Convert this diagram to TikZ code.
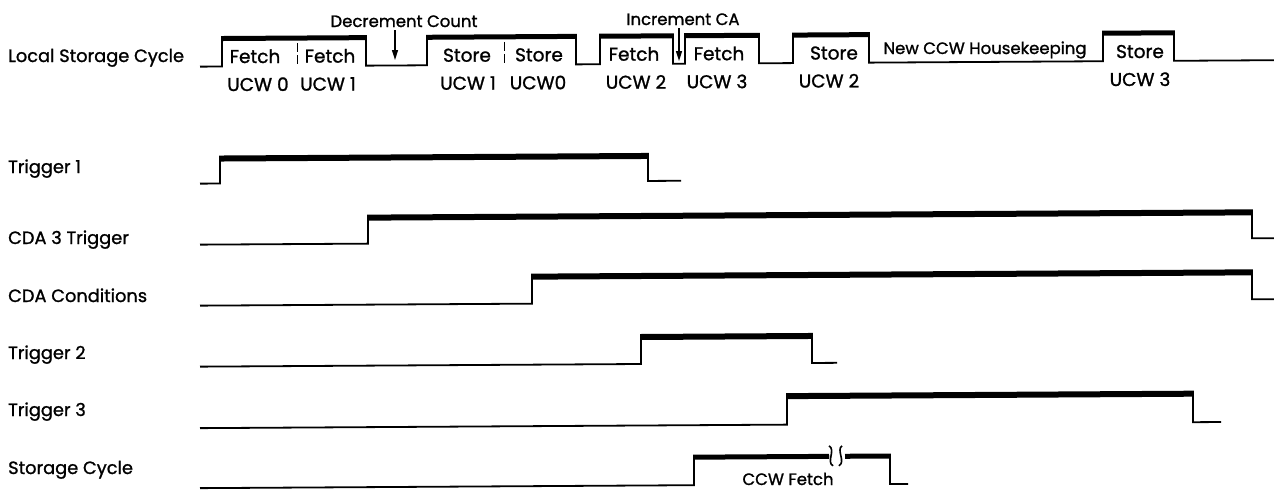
\documentclass[tikz,border=0pt]{standalone}
\usepackage{fontspec}
\setmainfont{Poppins}[UprightFeatures={FakeBold=1.2}]
\usetikzlibrary{arrows.meta}
\begin{document}
\begin{tikzpicture}[x=1pt,y=-1pt,
  wave/.style={line width=1.8pt, line join=miter, line cap=butt},
  bar/.style={line width=6pt, line cap=butt},
  lbl/.style={anchor=base west, inner sep=0pt, font=\fontsize{17.8}{20}\selectfont},
  cyc/.style={anchor=base, inner sep=0pt, font=\fontsize{18.5}{22}\selectfont},
  note/.style={anchor=base, inner sep=3pt, font=\fontsize{16.5}{20}\selectfont},
  ptr/.style={line width=1.5pt, -{Triangle[length=10pt,width=6pt]}},
  div/.style={line width=1pt, dash pattern=on 9pt off 3pt}]
\useasboundingbox (0,0) rectangle (1274,493);

% row labels
\node[lbl] (l0) at (8,62) {Local Storage Cycle};
\node[lbl] (l1) at (8,173) {Trigger 1};
\node[lbl] (l2) at (8,244) {CDA 3 Trigger};
\node[lbl] (l3) at (8,302) {CDA Conditions};
\node[lbl] (l4) at (8,359) {Trigger 2};
\node[lbl] (l5) at (8,416) {Trigger 3};
\node[lbl] (l6) at (8,474) {Storage Cycle};

% cycle labels
\node[cyc] (f0) at (255,63) {Fetch};
\node[cyc] (u0) at (258,91) {UCW 0};
\node[cyc] (f1) at (330,62.6) {Fetch};
\node[cyc] (u1) at (328,90.6) {UCW 1};
\node[cyc] (s1) at (467,61.7) {Store};
\node[cyc] (v1) at (468,89.7) {UCW 1};
\node[cyc] (s0) at (539,61.3) {Store};
\node[cyc] (v0) at (538,89.3) {UCW0};
\node[cyc] (f2) at (634,60.7) {Fetch};
\node[cyc] (u2) at (636,88.7) {UCW 2};
\node[cyc] (f3) at (719,60.2) {Fetch};
\node[cyc] (u3) at (717,88.2) {UCW 3};
\node[cyc] (s2) at (834,59.5) {Store};
\node[cyc] (v2) at (829,87.5) {UCW 2};
\node[cyc] (s3) at (1140,58) {Store};
\node[cyc] (v3) at (1140,86) {UCW 3};
\node[note,inner sep=0pt] (hk) at (985,54) {New CCW Housekeeping};
\node[note] (dc) at (404,27) {Decrement Count};
\node[note] (ic) at (683,25) {Increment CA};
\node[note,inner sep=0pt] (cf) at (788,485) {CCW Fetch};

\coordinate (tipD) at (395,60);
\coordinate (tipI) at (679,61);
\draw[ptr] (dc.south -| tipD) -- (tipD);
\draw[ptr] (ic.south -| tipI) -- (tipI);

\begin{scope}[cm={1,0.006,0,1,(0pt,-3.84pt)}]
% Local storage cycle
\draw[wave] (200,64) -- (222,64) -- (222,36) -- (366,36) -- (366,64) -- (427,64) -- (427,36) -- (576,36) -- (576,64) -- (600,64) -- (600,36) -- (673,36) -- (673,64) -- (685,64) -- (685,36) -- (759,36) -- (759,64) -- (793,64) -- (793,36) -- (869,36) -- (869,64) -- (1103,64) -- (1103,36) -- (1174,36) -- (1174,64) -- (1274,64);
\foreach \a/\b in {222/366, 427/576, 600/673, 685/759, 793/869, 1103/1174}
  \draw[bar, line width=5pt] (\a-0.9,36) -- (\b+0.9,36);
\draw[div] (297,41) -- (297,64);
\draw[div] (504,41) -- (504,64);

% Trigger 1
\draw[wave] (200,181) -- (220,181) -- (220,156) -- (648,156) -- (648,181) -- (681,181);
\draw[bar] (219.1,156) -- (648.9,156);
% CDA 3 Trigger
\draw[wave] (200,242) -- (368,242) -- (368,216) -- (1252,216) -- (1252,242) -- (1274,242);
\draw[bar] (367.1,216) -- (1252.9,216);
% CDA Conditions
\draw[wave] (200,303) -- (532,303) -- (532,276) -- (1252,276) -- (1252,303) -- (1274,303);
\draw[bar] (531.1,276) -- (1252.9,276);
% Trigger 2
\draw[wave] (200,364) -- (641,364) -- (641,337) -- (812,337) -- (812,364) -- (837,364);
\draw[bar] (640.1,337) -- (812.9,337);
% Trigger 3
\draw[wave] (200,425.5) -- (787,425.5) -- (787,397) -- (1193,397) -- (1193,425.5) -- (1221,425.5);
\draw[bar] (786.1,397) -- (1193.9,397);
% Storage cycle
\draw[wave] (200,485.5) -- (694,485.5) -- (694,457.5) -- (829,457.5);
\draw[wave] (845,457.5) -- (890,457.5) -- (890,485.5) -- (908,485.5);
\draw[bar, line width=5pt] (693.1,457.5) -- (829,457.5);
\draw[bar, line width=5pt] (845,457.5) -- (890.9,457.5);
\draw[line width=1.6pt] (829,447) .. controls (836,451) and (826,463) .. (833,467);
\draw[line width=1.6pt] (842,447) .. controls (836,451) and (846,463) .. (839,467);
\end{scope}
\end{tikzpicture}
\end{document}
